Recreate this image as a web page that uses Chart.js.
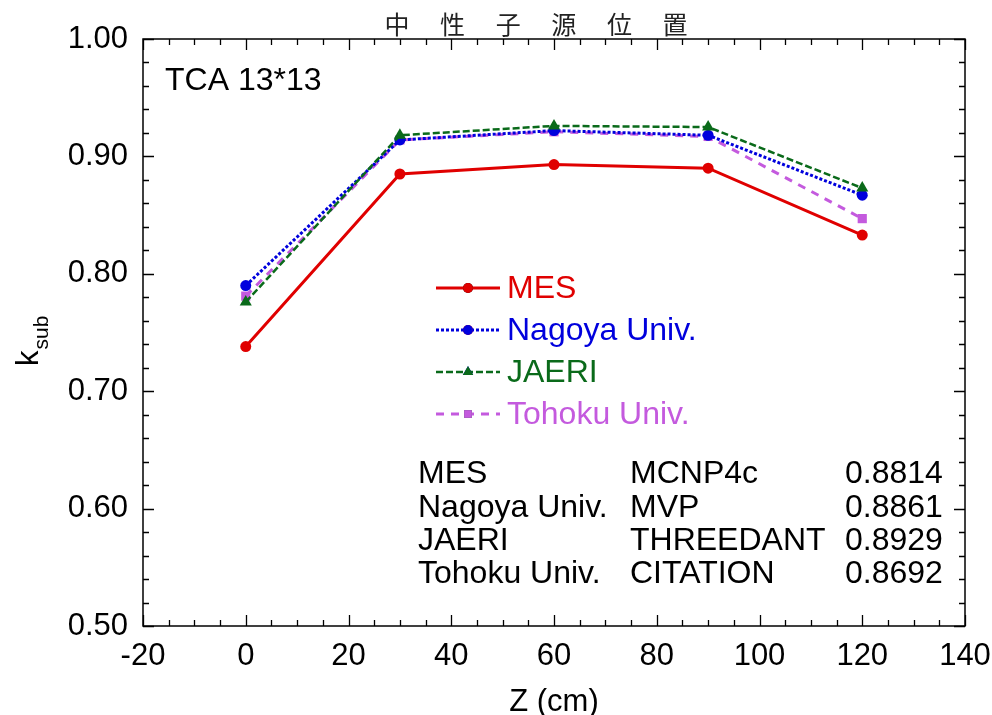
<!DOCTYPE html>
<html><head><meta charset="utf-8">
<script src="https://cdn.jsdelivr.net/npm/chart.js@4/dist/chart.umd.min.js"></script>
<style>html,body{margin:0;padding:0;background:#fff;}#wrap{width:992px;height:715px;position:relative;}</style>
</head><body><div id="wrap"><canvas id="c"></canvas></div>
<script>
// ---- data ----
const positions = [0, 30, 60, 90, 120];
const mesValues = [0.738, 0.885, 0.893, 0.890, 0.833];
const nagoyaValues = [0.790, 0.914, 0.922, 0.918, 0.867];
const jaeriValues = [0.776, 0.918, 0.926, 0.925, 0.873];
const tohokuValues = [0.781, 0.914, 0.921, 0.917, 0.847];
const seriesLabels = ['MES', 'Nagoya Univ.', 'JAERI', 'Tohoku Univ.'];
const codeNames = ['MCNP4c', 'MVP', 'THREEDANT', 'CITATION'];
const keffValues = ['0.8814', '0.8861', '0.8929', '0.8692'];
const titleChars = ['中', '性', '子', '源', '位', '置'];
const caseLabel = 'TCA 13*13';
const xAxisTitle = 'Z (cm)';
const yAxisMain = 'k';
const yAxisSub = 'sub';

const FONT = "'Liberation Sans', Arial, Helvetica, sans-serif";
const colors = ['#e00000', '#0000dd', '#0a6a1a', '#c45ade'];
const dashes = [[], [3, 2], [7, 3], [8, 7]];
const styles = ['circle', 'circle', 'triangle', 'rect'];
const radii = [5.5, 5.5, 7, 6.5];
const widths = [3, 3, 2.5, 3];
const allValues = [mesValues, nagoyaValues, jaeriValues, tohokuValues];

const datasets = seriesLabels.map((lab, i) => ({
  label: lab,
  data: positions.map((x, j) => ({x: x, y: allValues[i][j]})),
  borderColor: colors[i], backgroundColor: colors[i],
  borderWidth: widths[i], borderDash: dashes[i],
  pointStyle: styles[i], pointRadius: radii[i], pointHoverRadius: radii[i],
  pointBorderWidth: 0, pointBackgroundColor: colors[i],
  tension: 0, fill: false
}));
datasets.forEach((d, i) => d.order = [0, 2, 1, 3][i]);

const frameTicks = {
  id: 'frameTicks',
  beforeDatasetsDraw(chart) {
    const {ctx, chartArea: a, scales: {x, y}} = chart;
    ctx.save();
    ctx.strokeStyle = '#000';
    ctx.lineWidth = 1.5;
    ctx.strokeRect(a.left, a.top, a.right - a.left, a.bottom - a.top);
    ctx.lineWidth = 1.3;
    ctx.beginPath();
    for (let v = -20; v <= 140.001; v += 5) {
      const px = Math.round(x.getPixelForValue(v)) + 0.5;
      const len = (Math.round(v) % 20 === 0) ? 11 : 6;
      ctx.moveTo(px, a.bottom); ctx.lineTo(px, a.bottom - len);
      ctx.moveTo(px, a.top); ctx.lineTo(px, a.top + len);
    }
    for (let k = 0; k <= 25; k++) {
      const v = 0.5 + k * 0.02;
      const py = Math.round(y.getPixelForValue(v)) + 0.5;
      const len = (k % 5 === 0) ? 11 : 6;
      ctx.moveTo(a.left, py); ctx.lineTo(a.left + len, py);
      ctx.moveTo(a.right, py); ctx.lineTo(a.right - len, py);
    }
    ctx.stroke();
    ctx.restore();
  },
  afterDraw(chart) {
    const {ctx, chartArea: a} = chart;
    ctx.save();
    // title (CJK, spaced)
    ctx.fillStyle = '#222';
    ctx.font = "25px 'Noto Sans CJK JP', 'Noto Sans CJK SC', sans-serif";
    ctx.textAlign = 'center'; ctx.textBaseline = 'middle';
    titleChars.forEach((ch, i) => ctx.fillText(ch, 397 + i * 55.6, 24));

    // axis titles
    ctx.fillStyle = '#000';
    ctx.font = '31px ' + FONT;
    ctx.textBaseline = 'alphabetic';
    ctx.textAlign = 'center';
    ctx.fillText(xAxisTitle, (a.left + a.right) / 2, 711);
    // y title rotated with subscript
    ctx.save();
    ctx.translate(38, 366);
    ctx.rotate(-Math.PI / 2);
    ctx.textAlign = 'left';
    ctx.font = '31px ' + FONT;
    ctx.fillText(yAxisMain, 0, 0);
    const kw = ctx.measureText(yAxisMain).width;
    ctx.font = '21px ' + FONT;
    ctx.fillText(yAxisSub, kw + 1, 10);
    ctx.restore();

    // case label
    ctx.textAlign = 'left';
    ctx.font = '32px ' + FONT;
    ctx.fillText(caseLabel, 165, 90);

    // legend
    const legY = [288, 330, 372, 414];
    chart.data.datasets.forEach((d, i) => {
      const ly = legY[i];
      ctx.save();
      ctx.strokeStyle = d.borderColor;
      ctx.lineWidth = d.borderWidth;
      ctx.setLineDash(d.borderDash);
      ctx.beginPath(); ctx.moveTo(436, ly); ctx.lineTo(500, ly); ctx.stroke();
      ctx.setLineDash([]);
      const r = d.pointStyle === 'rect' ? 5.5 : (d.pointStyle === 'triangle' ? 6 : 5);
      Chart.helpers.drawPoint(ctx, {pointStyle: d.pointStyle, radius: r, borderWidth: 0, rotation: 0}, 468, ly);
      ctx.fillStyle = d.borderColor;
      ctx.fill();
      ctx.restore();
      ctx.fillStyle = d.borderColor;
      ctx.font = '32px ' + FONT;
      ctx.textAlign = 'left';
      ctx.fillText(d.label, 507, ly + 10);
    });

    // result table
    ctx.fillStyle = '#000';
    ctx.font = '32px ' + FONT;
    const rowY = [483, 517, 550, 583];
    seriesLabels.forEach((lab, i) => {
      ctx.fillText(lab, 418, rowY[i]);
      ctx.fillText(codeNames[i], 630, rowY[i]);
      ctx.fillText(keffValues[i], 845, rowY[i]);
    });
    ctx.restore();
  }
};

new Chart(document.getElementById('c'), {
  type: 'line',
  data: {datasets},
  options: {
    responsive: true, maintainAspectRatio: false, animation: false,
    layout: {padding: {left: 0, top: 39, right: 27, bottom: 0}},
    plugins: {legend: {display: false}, tooltip: {enabled: false}, title: {display: false}},
    scales: {
      x: {
        type: 'linear', min: -20, max: 140,
        grid: {display: false, drawTicks: false},
        border: {display: false},
        ticks: {stepSize: 20, padding: 12, color: '#000', font: {size: 31, family: FONT}, maxRotation: 0},
        afterFit(s) { s.height = 89; s.paddingLeft = 0; s.paddingRight = 0; }
      },
      y: {
        min: 0.5, max: 1.0,
        grid: {display: false, drawTicks: false},
        border: {display: false},
        ticks: {stepSize: 0.1, padding: 15, color: '#000', font: {size: 31, family: FONT},
          callback: v => Number(v).toFixed(2)},
        afterFit(s) { s.width = 143; s.paddingTop = 0; s.paddingBottom = 0; }
      }
    }
  },
  plugins: [frameTicks]
});
</script></body></html>
